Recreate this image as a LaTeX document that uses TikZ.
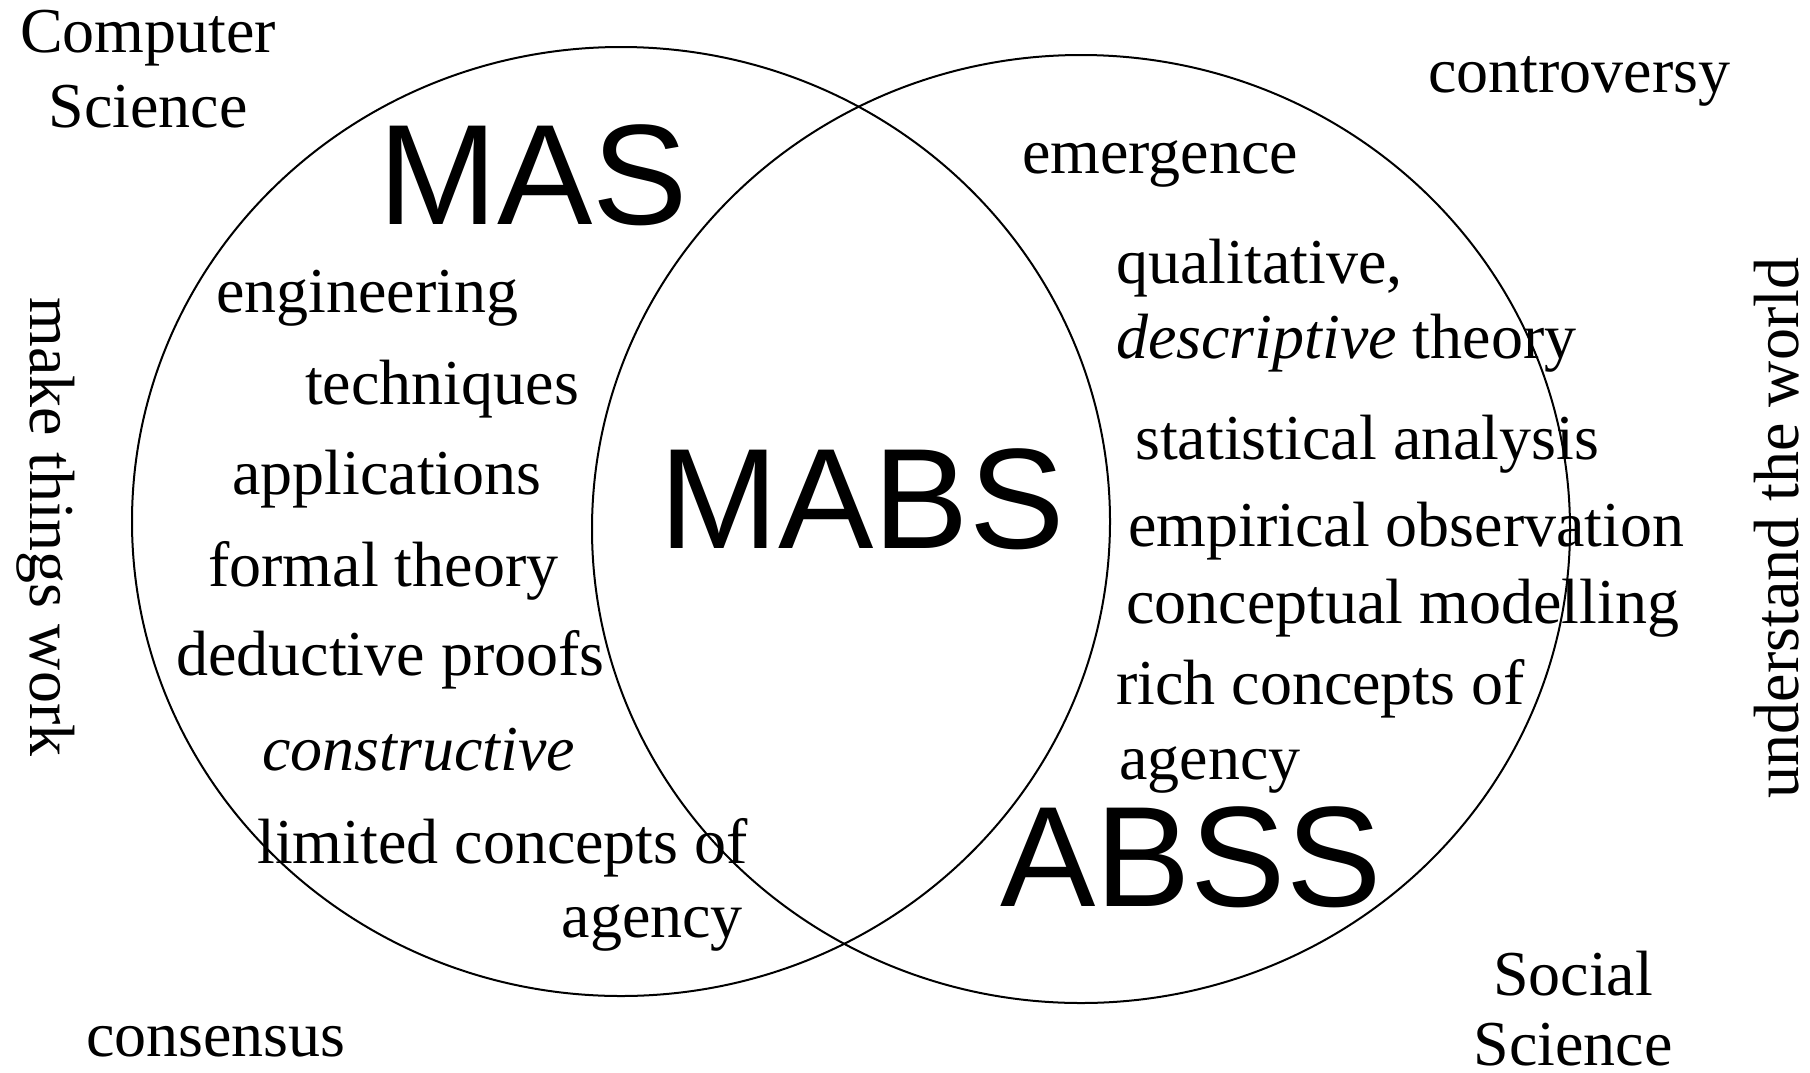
\documentclass[tikz,border=0pt]{standalone}
\usepackage{fontspec}
\setmainfont{Liberation Serif}
\newfontfamily\arialf{Liberation Sans}
\begin{document}
\begin{tikzpicture}[x=1pt,y=-1pt,
  txt/.style={inner sep=0pt,font=\fontsize{64}{64}\selectfont},
  big/.style={inner sep=0pt,font=\arialf\fontsize{143}{143}\selectfont},
  ring/.style={draw=black,line width=2pt}]
\useasboundingbox (0,0) rectangle (1810,1072);
% circles
\draw[ring] (621,521.5) ellipse [x radius=489pt, y radius=474.5pt];
\draw[ring] (1081,529) ellipse [x radius=489pt, y radius=474pt];
% big labels
\node[big,anchor=base west] (mas) at (378,224) {MAS};
\node[big,anchor=base west] (mabs) at (659,548) {MABS};
\node[big,anchor=base west] (abss) at (1000,906) {ABSS};
% corner labels
\node[txt,anchor=base] (cs1) at (148,52) {Computer};
\node[txt,anchor=base] (cs2) at (148,127) {Science};
\node[txt,anchor=base west] (cons) at (86,1056) {consensus};
\node[txt,anchor=base west] (contr) at (1428,92) {controversy};
\node[txt,anchor=base] (ss1) at (1573,995) {Social};
\node[txt,anchor=base] (ss2) at (1573,1065) {Science};
\node[txt,anchor=base,rotate=-90] (mtw) at (30,527) {make things work};
\node[txt,anchor=base,rotate=90] (utw) at (1798,528) {understand the world};
% left circle
\node[txt,anchor=base west] (l1) at (216,312) {engineering};
\node[txt,anchor=base west] (l2) at (305,404) {techniques};
\node[txt,anchor=base west] (l3) at (232,494) {applications};
\node[txt,anchor=base west] (l4) at (208,586) {formal theory};
\node[txt,anchor=base west] (l5) at (176,675) {deductive proofs};
\node[txt,anchor=base west] (l6) at (262,770) {\itshape constructive};
\node[txt,anchor=base east] (l7) at (748,863) {limited concepts of};
\node[txt,anchor=base east] (l8) at (743,937) {agency};
% right circle
\node[txt,anchor=base west] (r1) at (1022,173) {emergence};
\node[txt,anchor=base west] (r2) at (1116,283) {qualitative,};
\node[txt,anchor=base west] (r3) at (1116,358) {\itshape descriptive\upshape\ theory};
\node[txt,anchor=base west] (r4) at (1135,459) {statistical analysis};
\node[txt,anchor=base west] (r5) at (1128,546) {empirical observation};
\node[txt,anchor=base west] (r6) at (1126,623) {conceptual modelling};
\node[txt,anchor=base west] (r7) at (1116,704) {rich concepts of};
\node[txt,anchor=base west] (r8) at (1119,779) {agency};
\end{tikzpicture}
\end{document}
